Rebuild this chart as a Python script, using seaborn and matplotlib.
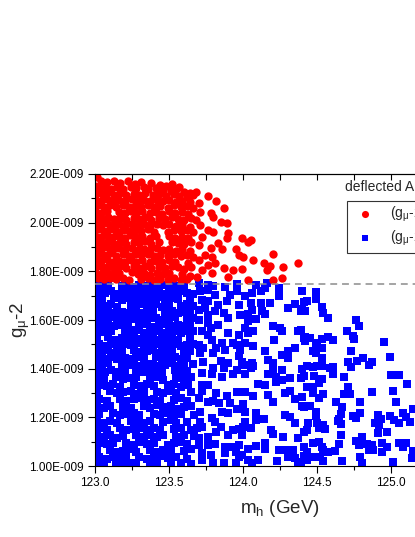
import matplotlib
matplotlib.use("Agg")
import pandas as pd
import matplotlib.pyplot as plt
from matplotlib.ticker import MultipleLocator, FuncFormatter
import seaborn as sns


# (m_h [GeV], g-2 [1E-009])
red_dense = [
    (123.01, 2.188), (123.04, 2.172), (123.08, 2.168), (123.13, 2.170), (123.17, 2.165), (123.22, 2.172), (123.27, 2.160), (123.31, 2.166), (123.38, 2.163), (123.44, 2.156), (123.48, 2.152), (123.52, 2.158), (123.57, 2.145),
    (123.00, 2.150), (123.03, 2.142), (123.07, 2.148), (123.11, 2.140), (123.15, 2.146), (123.19, 2.138), (123.24, 2.145), (123.28, 2.141), (123.33, 2.147), (123.36, 2.137), (123.41, 2.143), (123.46, 2.135), (123.51, 2.131), (123.55, 2.138), (123.60, 2.128), (123.64, 2.122),
    (123.01, 2.122), (123.05, 2.116), (123.09, 2.124), (123.13, 2.113), (123.17, 2.121), (123.21, 2.115), (123.26, 2.119), (123.30, 2.112), (123.34, 2.120), (123.39, 2.114), (123.43, 2.118), (123.48, 2.110), (123.53, 2.116), (123.57, 2.108), (123.62, 2.104), (123.66, 2.112),
    (123.00, 2.097), (123.04, 2.091), (123.08, 2.099), (123.12, 2.090), (123.16, 2.094), (123.20, 2.088), (123.25, 2.096), (123.29, 2.089), (123.33, 2.093), (123.37, 2.087), (123.42, 2.095), (123.46, 2.089), (123.50, 2.093), (123.55, 2.085), (123.59, 2.091), (123.64, 2.083),
    (123.02, 2.072), (123.06, 2.066), (123.10, 2.074), (123.14, 2.065), (123.19, 2.071), (123.23, 2.064), (123.27, 2.070), (123.31, 2.066), (123.36, 2.073), (123.40, 2.063), (123.44, 2.069), (123.49, 2.062), (123.53, 2.071), (123.58, 2.064), (123.62, 2.068), (123.66, 2.060),
    (123.00, 2.047), (123.04, 2.041), (123.08, 2.049), (123.16, 2.043), (123.20, 2.039), (123.24, 2.048), (123.28, 2.040), (123.32, 2.046), (123.37, 2.038), (123.41, 2.044), (123.45, 2.037), (123.50, 2.046), (123.54, 2.039), (123.59, 2.043), (123.63, 2.036),
    (123.01, 2.022), (123.05, 2.016), (123.09, 2.024), (123.13, 2.014), (123.17, 2.020), (123.21, 2.013), (123.26, 2.021), (123.30, 2.015), (123.34, 2.023), (123.38, 2.012), (123.43, 2.019), (123.47, 2.014), (123.52, 2.022), (123.56, 2.016), (123.60, 2.011), (123.65, 2.019),
    (123.00, 1.997), (123.04, 1.991), (123.08, 1.999), (123.12, 1.990), (123.16, 1.994), (123.20, 1.988), (123.25, 1.996), (123.29, 1.989), (123.33, 1.993), (123.37, 1.987), (123.42, 1.995), (123.46, 1.989), (123.50, 1.993), (123.55, 1.985), (123.59, 1.991), (123.64, 1.983),
    (123.02, 1.972), (123.06, 1.966), (123.10, 1.974), (123.14, 1.965), (123.19, 1.971), (123.23, 1.964), (123.27, 1.970), (123.31, 1.966), (123.36, 1.973), (123.40, 1.963), (123.49, 1.962), (123.53, 1.971), (123.58, 1.964), (123.62, 1.968), (123.66, 1.960),
    (123.00, 1.947), (123.04, 1.941), (123.08, 1.949), (123.12, 1.940), (123.16, 1.944), (123.20, 1.938), (123.24, 1.948), (123.28, 1.940), (123.32, 1.946), (123.37, 1.938), (123.41, 1.944), (123.50, 1.946), (123.54, 1.939), (123.59, 1.943), (123.63, 1.936),
    (123.01, 1.922), (123.05, 1.916), (123.09, 1.924), (123.13, 1.914), (123.17, 1.920), (123.21, 1.913), (123.26, 1.921), (123.30, 1.915), (123.34, 1.923), (123.38, 1.912), (123.43, 1.919), (123.52, 1.922), (123.56, 1.916), (123.60, 1.911), (123.65, 1.919),
    (123.00, 1.897), (123.04, 1.891), (123.08, 1.899), (123.12, 1.890), (123.16, 1.894), (123.20, 1.888), (123.25, 1.896), (123.29, 1.889), (123.33, 1.893), (123.37, 1.887), (123.42, 1.895), (123.46, 1.889), (123.50, 1.893), (123.55, 1.885), (123.59, 1.891), (123.64, 1.883),
    (123.02, 1.872), (123.06, 1.866), (123.10, 1.874), (123.14, 1.865), (123.19, 1.871), (123.23, 1.864), (123.27, 1.870), (123.31, 1.866), (123.36, 1.873), (123.40, 1.863), (123.44, 1.869), (123.49, 1.862), (123.53, 1.871), (123.58, 1.864), (123.62, 1.868), (123.66, 1.860),
    (123.00, 1.847), (123.04, 1.841), (123.08, 1.849), (123.12, 1.840), (123.16, 1.844), (123.20, 1.838), (123.24, 1.848), (123.28, 1.840), (123.32, 1.846), (123.37, 1.838), (123.41, 1.844), (123.45, 1.837), (123.50, 1.846), (123.54, 1.839), (123.63, 1.836),
    (123.01, 1.822), (123.05, 1.816), (123.09, 1.824), (123.13, 1.814), (123.17, 1.820), (123.21, 1.813), (123.26, 1.821), (123.30, 1.815), (123.34, 1.823), (123.38, 1.812), (123.43, 1.819), (123.47, 1.814), (123.52, 1.822), (123.56, 1.816), (123.60, 1.811), (123.65, 1.819),
    (123.00, 1.797), (123.04, 1.791), (123.08, 1.799), (123.12, 1.790), (123.16, 1.794), (123.25, 1.796), (123.29, 1.789), (123.33, 1.793), (123.37, 1.787), (123.42, 1.795), (123.46, 1.789), (123.50, 1.793), (123.59, 1.791), (123.64, 1.783),
    (123.02, 1.772), (123.06, 1.768), (123.10, 1.774), (123.14, 1.767), (123.19, 1.771), (123.23, 1.766), (123.31, 1.768), (123.36, 1.773), (123.40, 1.765), (123.44, 1.770), (123.49, 1.764), (123.53, 1.771), (123.58, 1.766), (123.62, 1.769),
]

red_tail = [
    (123.68, 2.126), (123.76, 2.110), (123.82, 2.089), (123.70, 2.081), (123.71, 2.044), (123.78, 2.040),
    (123.87, 2.060), (123.80, 2.023), (123.85, 2.003), (123.89, 1.999), (123.68, 2.011), (123.71, 1.990),
    (123.76, 1.970), (123.80, 1.962), (123.90, 1.958), (123.89, 1.937), (123.83, 1.916), (123.99, 1.937),
    (124.05, 1.929), (124.03, 1.921), (123.72, 1.941), (123.70, 1.908), (123.78, 1.896), (123.86, 1.892),
    (123.95, 1.892), (123.97, 1.867), (124.00, 1.859), (124.07, 1.847), (124.20, 1.871), (123.74, 1.867),
    (123.79, 1.859), (123.70, 1.847), (123.81, 1.834), (123.76, 1.826), (123.87, 1.814), (123.93, 1.805),
    (123.99, 1.810), (124.14, 1.834), (124.18, 1.822), (124.16, 1.805), (124.27, 1.818), (124.37, 1.834),
    (123.72, 1.805), (123.79, 1.793), (123.90, 1.777), (124.03, 1.764), (124.20, 1.764), (124.26, 1.773),
    (123.69, 1.777),
]

blue_dense = [
    (123.01, 1.744), (123.05, 1.738), (123.09, 1.745), (123.18, 1.740), (123.22, 1.746), (123.26, 1.737), (123.30, 1.743), (123.35, 1.739), (123.39, 1.745), (123.43, 1.736), (123.47, 1.742), (123.52, 1.746), (123.56, 1.738), (123.60, 1.744),
    (123.03, 1.716), (123.07, 1.711), (123.11, 1.719), (123.15, 1.709), (123.20, 1.714), (123.24, 1.720), (123.28, 1.710), (123.33, 1.717), (123.37, 1.712), (123.41, 1.718), (123.45, 1.708), (123.50, 1.715), (123.54, 1.711), (123.58, 1.719), (123.62, 1.713), (123.66, 1.709),
    (123.01, 1.690), (123.05, 1.684), (123.13, 1.691), (123.18, 1.683), (123.22, 1.689), (123.26, 1.685), (123.30, 1.692), (123.35, 1.682), (123.39, 1.688), (123.43, 1.693), (123.47, 1.684), (123.52, 1.690), (123.56, 1.686), (123.64, 1.689),
    (123.03, 1.663), (123.07, 1.657), (123.11, 1.665), (123.15, 1.655), (123.24, 1.662), (123.28, 1.656), (123.33, 1.664), (123.37, 1.659), (123.41, 1.666), (123.45, 1.654), (123.50, 1.661), (123.58, 1.658), (123.62, 1.664), (123.66, 1.656),
    (123.01, 1.636), (123.05, 1.630), (123.09, 1.638), (123.13, 1.628), (123.18, 1.635), (123.22, 1.631), (123.26, 1.639), (123.30, 1.629), (123.35, 1.634), (123.39, 1.637), (123.47, 1.632), (123.52, 1.638), (123.56, 1.627), (123.60, 1.633), (123.64, 1.637),
    (123.03, 1.609), (123.07, 1.603), (123.11, 1.611), (123.15, 1.601), (123.20, 1.608), (123.24, 1.604), (123.28, 1.612), (123.33, 1.602), (123.37, 1.607), (123.41, 1.610), (123.45, 1.600), (123.50, 1.606), (123.54, 1.611), (123.62, 1.604), (123.66, 1.609),
    (123.01, 1.582), (123.05, 1.576), (123.09, 1.584), (123.13, 1.574), (123.18, 1.581), (123.22, 1.577), (123.30, 1.578), (123.35, 1.584), (123.39, 1.573), (123.43, 1.580), (123.47, 1.585), (123.52, 1.575), (123.56, 1.581), (123.60, 1.577), (123.64, 1.583),
    (123.03, 1.555), (123.07, 1.549), (123.11, 1.557), (123.20, 1.554), (123.24, 1.550), (123.28, 1.558), (123.33, 1.548), (123.37, 1.553), (123.41, 1.556), (123.45, 1.546), (123.50, 1.552), (123.54, 1.557), (123.58, 1.547), (123.62, 1.553), (123.66, 1.556),
    (123.01, 1.528), (123.09, 1.530), (123.13, 1.520), (123.18, 1.527), (123.22, 1.523), (123.26, 1.531), (123.30, 1.521), (123.35, 1.526), (123.39, 1.529), (123.43, 1.519), (123.47, 1.525), (123.52, 1.530), (123.56, 1.520), (123.64, 1.528),
    (123.03, 1.501), (123.07, 1.495), (123.11, 1.503), (123.15, 1.493), (123.20, 1.500), (123.24, 1.496), (123.28, 1.504), (123.33, 1.494), (123.37, 1.499), (123.41, 1.502), (123.45, 1.492), (123.50, 1.498), (123.54, 1.503), (123.58, 1.493), (123.62, 1.499), (123.66, 1.502),
    (123.01, 1.474), (123.05, 1.468), (123.09, 1.476), (123.13, 1.466), (123.18, 1.473), (123.26, 1.477), (123.30, 1.467), (123.35, 1.472), (123.39, 1.475), (123.43, 1.465), (123.47, 1.471), (123.52, 1.476), (123.60, 1.468), (123.64, 1.474),
    (123.03, 1.447), (123.07, 1.441), (123.11, 1.449), (123.15, 1.439), (123.20, 1.446), (123.24, 1.442), (123.28, 1.450), (123.33, 1.440), (123.41, 1.448), (123.45, 1.438), (123.50, 1.444), (123.54, 1.449), (123.58, 1.439), (123.62, 1.445),
    (123.01, 1.420), (123.05, 1.414), (123.09, 1.422), (123.18, 1.419), (123.22, 1.415), (123.26, 1.423), (123.30, 1.413), (123.35, 1.418), (123.39, 1.421), (123.43, 1.411), (123.47, 1.417), (123.52, 1.422), (123.56, 1.412), (123.60, 1.418), (123.66, 1.421),
    (123.03, 1.393), (123.07, 1.387), (123.11, 1.395), (123.15, 1.385), (123.20, 1.392), (123.28, 1.396), (123.33, 1.386), (123.37, 1.391), (123.41, 1.394), (123.45, 1.384), (123.54, 1.395), (123.58, 1.385), (123.62, 1.391),
    (123.01, 1.364), (123.06, 1.358), (123.14, 1.366), (123.19, 1.356), (123.24, 1.362), (123.28, 1.367), (123.37, 1.360), (123.42, 1.365), (123.46, 1.355), (123.55, 1.363), (123.60, 1.358), (123.65, 1.366),
    (123.03, 1.335), (123.08, 1.329), (123.12, 1.337), (123.17, 1.327), (123.26, 1.334), (123.31, 1.330), (123.35, 1.338), (123.40, 1.328), (123.49, 1.333), (123.53, 1.336), (123.58, 1.326), (123.63, 1.332),
    (123.01, 1.305), (123.10, 1.307), (123.15, 1.299), (123.19, 1.304), (123.24, 1.309), (123.28, 1.298), (123.33, 1.303), (123.42, 1.306), (123.46, 1.300), (123.51, 1.308), (123.55, 1.301), (123.65, 1.304),
    (123.03, 1.275), (123.08, 1.269), (123.17, 1.277), (123.21, 1.268), (123.26, 1.274), (123.30, 1.279), (123.35, 1.270), (123.40, 1.276), (123.44, 1.266), (123.53, 1.273), (123.58, 1.278), (123.62, 1.268),
    (123.01, 1.245), (123.06, 1.239), (123.10, 1.247), (123.19, 1.244), (123.24, 1.238), (123.33, 1.246), (123.37, 1.240), (123.42, 1.249), (123.46, 1.241), (123.51, 1.246), (123.55, 1.236), (123.60, 1.243), (123.65, 1.248),
    (123.03, 1.215), (123.12, 1.217), (123.17, 1.209), (123.21, 1.214), (123.26, 1.219), (123.30, 1.208), (123.40, 1.216), (123.44, 1.210), (123.49, 1.218), (123.53, 1.211), (123.58, 1.215), (123.67, 1.212),
    (123.01, 1.185), (123.06, 1.179), (123.10, 1.187), (123.15, 1.177), (123.24, 1.184), (123.28, 1.189), (123.33, 1.178), (123.37, 1.185), (123.46, 1.181), (123.51, 1.188), (123.55, 1.176), (123.62, 1.183),
    (123.03, 1.155), (123.08, 1.149), (123.17, 1.157), (123.21, 1.147), (123.26, 1.154), (123.30, 1.158), (123.35, 1.148), (123.40, 1.156), (123.44, 1.150), (123.53, 1.152), (123.58, 1.158), (123.65, 1.148),
    (123.01, 1.125), (123.06, 1.119), (123.10, 1.127), (123.15, 1.117), (123.19, 1.124), (123.28, 1.129), (123.33, 1.118), (123.37, 1.126), (123.42, 1.121), (123.46, 1.128), (123.55, 1.120), (123.60, 1.126), (123.67, 1.122),
    (123.03, 1.095), (123.08, 1.089), (123.12, 1.097), (123.21, 1.094), (123.26, 1.088), (123.30, 1.098), (123.35, 1.091), (123.40, 1.096), (123.49, 1.087), (123.53, 1.094), (123.58, 1.099), (123.62, 1.090),
    (123.01, 1.065), (123.10, 1.067), (123.15, 1.059), (123.19, 1.064), (123.24, 1.069), (123.28, 1.058), (123.37, 1.066), (123.42, 1.060), (123.46, 1.068), (123.51, 1.061), (123.60, 1.064), (123.65, 1.069),
    (123.03, 1.037), (123.08, 1.031), (123.12, 1.039), (123.17, 1.029), (123.21, 1.036), (123.30, 1.038), (123.35, 1.030), (123.40, 1.035), (123.44, 1.040), (123.49, 1.032), (123.55, 1.036), (123.62, 1.031),
    (123.01, 1.012), (123.06, 1.008), (123.14, 1.011), (123.19, 1.006), (123.24, 1.013), (123.28, 1.009), (123.37, 1.012), (123.42, 1.007), (123.51, 1.010), (123.58, 1.013), (123.65, 1.008),
]

blue_sparse = [
    (123.70, 1.752), (123.76, 1.744), (123.71, 1.719), (123.76, 1.723), (123.80, 1.740), (123.88, 1.736),
    (123.96, 1.748), (123.96, 1.719), (124.01, 1.699), (124.06, 1.711), (124.09, 1.744), (124.12, 1.719),
    (124.16, 1.752), (124.15, 1.731), (124.24, 1.731), (124.40, 1.719), (124.24, 1.699), (123.72, 1.682),
    (123.76, 1.678), (123.81, 1.703), (123.83, 1.662), (123.89, 1.678), (123.91, 1.703), (123.97, 1.662),
    (124.05, 1.670), (124.06, 1.641), (124.12, 1.670), (124.18, 1.670), (124.13, 1.637), (124.15, 1.625),
    (124.30, 1.649), (124.35, 1.666), (124.41, 1.674), (124.39, 1.637), (123.70, 1.641), (123.74, 1.649),
    (123.76, 1.620), (123.81, 1.637), (123.87, 1.629), (123.90, 1.608), (123.98, 1.620), (124.03, 1.625),
    (124.09, 1.604), (123.70, 1.600), (123.76, 1.588), (123.83, 1.579), (124.03, 1.596), (124.01, 1.567),
    (124.07, 1.555), (124.03, 1.547), (124.20, 1.575), (124.25, 1.567), (124.26, 1.555), (124.37, 1.555),
    (123.72, 1.555), (123.78, 1.567), (123.76, 1.538), (123.79, 1.518), (123.90, 1.547), (123.97, 1.538),
    (123.86, 1.505), (123.93, 1.505), (123.96, 1.497), (124.01, 1.505), (123.98, 1.477), (124.07, 1.493),
    (124.21, 1.518), (124.41, 1.526), (123.70, 1.497), (123.73, 1.485), (123.82, 1.485), (123.88, 1.477),
    (123.71, 1.464), (123.80, 1.464), (124.15, 1.473), (124.30, 1.473), (124.35, 1.485), (123.73, 1.427),
    (123.85, 1.432), (123.90, 1.423), (123.97, 1.452), (123.99, 1.427), (124.01, 1.415), (124.06, 1.423),
    (124.07, 1.411), (124.17, 1.436), (124.20, 1.423), (124.26, 1.456), (124.30, 1.444), (123.80, 1.403),
    (123.87, 1.403), (123.96, 1.394), (124.05, 1.403), (124.20, 1.394), (124.26, 1.394), (124.40, 1.399),
    (124.49, 1.715), (124.49, 1.686), (124.43, 1.678), (124.40, 1.645), (124.42, 1.637), (124.53, 1.653),
    (124.54, 1.629), (124.57, 1.608), (124.76, 1.600), (124.78, 1.575), (124.70, 1.555), (124.74, 1.534),
    (124.75, 1.522), (124.39, 1.559), (124.42, 1.530), (124.45, 1.526), (124.42, 1.514), (124.49, 1.505),
    (124.53, 1.522), (124.57, 1.530), (124.61, 1.518), (124.50, 1.493), (124.53, 1.485), (124.47, 1.473),
    (124.49, 1.464), (124.95, 1.510), (124.73, 1.473), (124.53, 1.444), (124.81, 1.444), (124.87, 1.427),
    (124.77, 1.432), (124.71, 1.427), (124.85, 1.415), (124.99, 1.448), (124.73, 1.407), (124.43, 1.411),
    (124.47, 1.407), (124.50, 1.411), (124.53, 1.411), (124.59, 1.403), (124.61, 1.407), (125.00, 1.374),
    (125.05, 1.374),
    (124.41, 1.370), (124.48, 1.370), (124.53, 1.357), (124.51, 1.341), (124.61, 1.378), (124.68, 1.366),
    (124.43, 1.325), (124.47, 1.325), (124.47, 1.300), (124.54, 1.296), (124.51, 1.279), (124.71, 1.325),
    (124.68, 1.296), (124.72, 1.296), (124.87, 1.304), (125.11, 1.337), (125.01, 1.308), (125.03, 1.263),
    (124.63, 1.263), (124.79, 1.263), (124.67, 1.242), (124.41, 1.242), (124.45, 1.246), (124.49, 1.222),
    (124.49, 1.205), (124.66, 1.214), (124.74, 1.205), (124.79, 1.218), (124.76, 1.197), (124.65, 1.193),
    (124.64, 1.185), (124.66, 1.173), (124.91, 1.209), (124.93, 1.193), (124.99, 1.205), (125.02, 1.189),
    (125.08, 1.218), (125.10, 1.201), (125.15, 1.234), (124.89, 1.177), (124.92, 1.168), (124.91, 1.136),
    (124.97, 1.140), (125.05, 1.177), (125.13, 1.181), (124.44, 1.177), (124.50, 1.177), (124.54, 1.168),
    (124.55, 1.152), (124.51, 1.156), (124.43, 1.148), (124.41, 1.140), (124.66, 1.127), (124.76, 1.103),
    (124.78, 1.086), (124.80, 1.119), (124.84, 1.090), (124.87, 1.086), (124.88, 1.066), (124.85, 1.066),
    (124.94, 1.095), (124.94, 1.057), (124.97, 1.078), (125.05, 1.095), (125.10, 1.095), (125.08, 1.078),
    (125.15, 1.062), (124.47, 1.095), (124.51, 1.099), (124.53, 1.078), (124.54, 1.066), (124.57, 1.057),
    (124.62, 1.062), (124.65, 1.090), (124.43, 1.057), (124.41, 1.041), (124.43, 1.025), (124.48, 1.037),
    (124.52, 1.037), (124.54, 1.021), (124.67, 1.021), (124.79, 1.037), (124.80, 1.012), (125.01, 1.016),
    (125.14, 1.033), (124.39, 1.016),
    (123.72, 1.382), (123.79, 1.378), (123.86, 1.366), (123.93, 1.378), (124.01, 1.378), (124.17, 1.378),
    (124.22, 1.366), (124.26, 1.353), (124.32, 1.362), (124.39, 1.362), (123.72, 1.333), (123.72, 1.308),
    (123.76, 1.333), (123.82, 1.300), (123.89, 1.288), (123.96, 1.304), (124.01, 1.304), (124.10, 1.337),
    (124.15, 1.333), (124.07, 1.288), (124.17, 1.292), (124.20, 1.263), (124.22, 1.345), (124.28, 1.300),
    (124.32, 1.308), (124.35, 1.275), (124.40, 1.284), (123.70, 1.279), (123.76, 1.263), (123.80, 1.267),
    (123.84, 1.259), (123.91, 1.259), (124.00, 1.255), (123.96, 1.234), (123.86, 1.222), (123.90, 1.218),
    (124.01, 1.222), (124.09, 1.218), (124.14, 1.193), (124.09, 1.189), (124.28, 1.209), (124.32, 1.201),
    (124.35, 1.177), (124.40, 1.246), (123.71, 1.222), (123.71, 1.181), (123.79, 1.197), (123.81, 1.181),
    (123.69, 1.156), (123.72, 1.160), (123.85, 1.160), (123.82, 1.140), (123.93, 1.148), (123.97, 1.152),
    (124.00, 1.160), (124.01, 1.181), (124.05, 1.156), (123.90, 1.127), (123.99, 1.127), (124.19, 1.148),
    (124.20, 1.132), (124.27, 1.119), (124.37, 1.115), (123.70, 1.115), (123.76, 1.119), (123.70, 1.086),
    (123.76, 1.086), (123.81, 1.090), (123.88, 1.078), (123.93, 1.078), (123.97, 1.086), (124.03, 1.070),
    (124.09, 1.082), (124.15, 1.095), (124.15, 1.070), (124.24, 1.066), (124.28, 1.066), (124.34, 1.066),
    (124.41, 1.078), (123.72, 1.053), (123.78, 1.045), (123.88, 1.053), (123.95, 1.057), (123.99, 1.045),
    (123.97, 1.037), (123.72, 1.025), (123.80, 1.012), (123.87, 1.012), (123.95, 1.012), (124.03, 1.025),
    (124.06, 1.012), (124.10, 1.025), (124.23, 1.021), (124.30, 1.037), (124.35, 1.033), (124.37, 1.016),
]

cut_value = 1.75
legend_title = "deflected AMSB"
label_red = r"(g$_\mathrm{μ}$-2) > 1.75E-009"
label_blue = r"(g$_\mathrm{μ}$-2) < 1.75E-009"


def to_frame(points):
    df = pd.DataFrame(points, columns=["m_h", "g2"])
    df["g2"] = df["g2"] * 1e-9
    return df


red_df = to_frame(red_dense + red_tail)
blue_df = to_frame(blue_dense + blue_sparse)

sns.set_theme(style="ticks")
plt.rcParams["font.family"] = ["Liberation Sans", "DejaVu Sans"]
plt.rcParams["mathtext.fontset"] = "custom"
plt.rcParams["mathtext.rm"] = "Liberation Sans"
plt.rcParams["mathtext.it"] = "Liberation Sans:italic"

fig = plt.figure(figsize=(4.15, 5.37), dpi=100)
ax = fig.add_axes([0.229, 0.132, 0.892, 0.544])

sns.scatterplot(data=blue_df, x="m_h", y="g2", marker="s", color="#0000ff",
                s=26, linewidth=0, label=label_blue, ax=ax)
sns.scatterplot(data=red_df, x="m_h", y="g2", marker="o", color="#ff0000",
                s=36, linewidth=0, label=label_red, ax=ax)
ax.axhline(cut_value * 1e-9, color="#8c8c8c", ls=(0, (4.5, 3.2)), lw=1.1, zorder=5)

ax.set_xlim(123.0, 125.5)
ax.set_ylim(1.0e-9, 2.2e-9)
ax.xaxis.set_major_locator(MultipleLocator(0.5))
ax.xaxis.set_minor_locator(MultipleLocator(0.25))
ax.xaxis.set_major_formatter(FuncFormatter(lambda v, p: f"{v:.1f}"))
ax.yaxis.set_major_locator(MultipleLocator(0.2e-9))
ax.yaxis.set_minor_locator(MultipleLocator(0.1e-9))
ax.yaxis.set_major_formatter(FuncFormatter(lambda v, p: f"{v * 1e9:.2f}E-009"))
ax.tick_params(which="major", direction="out", length=5, width=0.8,
               labelsize=8.5, color="black", labelcolor="black", pad=3)
ax.tick_params(which="minor", direction="out", length=3, width=0.8, color="black")
ax.tick_params(top=False, right=False)

top = ax.secondary_xaxis("top")
top.xaxis.set_major_locator(MultipleLocator(0.25))
top.tick_params(direction="in", length=4, width=0.8, labeltop=False, color="black")
top.spines["top"].set_linewidth(0.8)
top.spines["top"].set_color("black")

for sp in ax.spines.values():
    sp.set_linewidth(0.8)
    sp.set_color("black")

ax.set_xlabel(r"m$_\mathrm{h}$ (GeV)", fontsize=13.5)
ax.set_ylabel(r"g$_\mathrm{μ}$-2", fontsize=13.5)
ax.xaxis.set_label_coords(0.5, -0.11)
ax.yaxis.set_label_coords(-0.17, 0.5)

ax.text(0.676, 0.955, legend_title, transform=ax.transAxes, fontsize=10,
        va="center", ha="left")
handles, labels = ax.get_legend_handles_labels()
leg = ax.legend([handles[1], handles[0]], [labels[1], labels[0]], loc="upper left",
                bbox_to_anchor=(0.681, 0.908), fontsize=10, frameon=True,
                fancybox=False, edgecolor="#333333", framealpha=1, borderpad=0.3,
                labelspacing=0.35, handletextpad=0.8, borderaxespad=0,
                markerscale=0.85)
leg.get_frame().set_linewidth(0.8)

fig.savefig("out.png", dpi=100)
